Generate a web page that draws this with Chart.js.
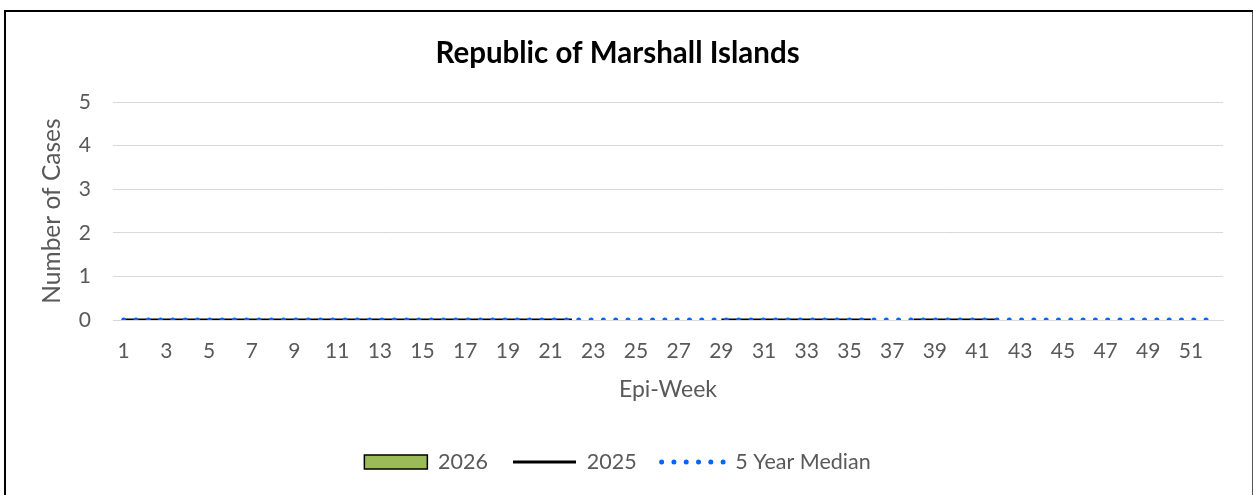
<!DOCTYPE html>
<html>
<head>
<meta charset="utf-8">
<script src="https://cdn.jsdelivr.net/npm/chart.js@4.4.1/dist/chart.umd.min.js"></script>
<style>
  html, body { margin: 0; padding: 0; background: #fff; }
  #wrap { position: relative; width: 1253px; height: 495px; }
  #frame {
    position: absolute; left: 4px; top: 10px; width: 1246px; height: 490px;
    border-left: 2px solid #000; border-top: 2px solid #000; border-right: 2px solid #555;
    pointer-events: none;
  }
</style>
</head>
<body>
<div id="wrap">
  <canvas id="chart" width="1253" height="495"></canvas>
  <div id="frame"></div>
</div>
<script>
const weeks = ["1","2","3","4","5","6","7","8","9","10","11","12","13","14","15","16","17","18","19","20",
  "21","22","23","24","25","26","27","28","29","30","31","32","33","34","35","36","37","38","39","40",
  "41","42","43","44","45","46","47","48","49","50","51","52"];

// no 2026 cases reported yet
const cases2026 = [];

const cases2025 = [0,0,0,0,0,0,0,0,0,0,0,0,0,0,0,0,0,0,0,0,
  0,0,null,null,null,null,null,null,0,0,0,0,0,0,0,0,null,0,0,0,
  0,0,null,null,null,null,null,null,null,null,null,null];

const median5yr = [0,0,0,0,0,0,0,0,0,0,0,0,0,0,0,0,0,0,0,0,
  0,0,0,0,0,0,0,0,0,0,0,0,0,0,0,0,0,0,0,0,
  0,0,0,0,0,0,0,0,0,0,0,0];

const yTicks = [0, 1, 2, 3, 4, 5];

const grey = "#595959";
const font = "Lato, 'Open Sans', sans-serif";

// legend symbols: lines use the dataset's line style, not the point style
function legendLabels(chart) {
  const items = Chart.defaults.plugins.legend.labels.generateLabels(chart);
  items.forEach(it => {
    const ds = chart.data.datasets[it.datasetIndex];
    it.lineWidth = ds.borderWidth;
    it.strokeStyle = ds.borderColor;
    if (ds.type === "line") {
      it.lineDash = ds.borderDash || [];
      it.lineCap = ds.borderCapStyle || "butt";
    } else {
      it.fillStyle = ds.backgroundColor;
    }
  });
  return items;
}

const ctx = document.getElementById("chart").getContext("2d");
new Chart(ctx, {
  data: {
    labels: weeks,
    datasets: [
      {
        type: "bar",
        label: "2026",
        data: cases2026,
        backgroundColor: "#9BBB59",
        borderColor: "#000",
        borderWidth: 1.5,
        pointStyle: "rect",
        order: 3
      },
      {
        type: "line",
        label: "2025",
        data: cases2025,
        borderColor: "#000",
        backgroundColor: "#000",
        borderWidth: 3,
        pointRadius: 0,
        pointStyle: "line",
        spanGaps: false,
        order: 2
      },
      {
        type: "line",
        label: "5 Year Median",
        data: median5yr,
        borderColor: "#0066FF",
        backgroundColor: "#0066FF",
        borderWidth: 5,
        borderDash: [0, 12.3],
        borderCapStyle: "round",
        pointRadius: 0,
        pointStyle: "line",
        order: 1
      }
    ]
  },
  options: {
    responsive: false,
    animation: false,
    layout: { padding: { left: 12, right: 30, top: 0, bottom: 12.25 } },
    plugins: {
      title: {
        display: true,
        text: "Republic of Marshall Islands",
        color: "#000",
        font: { family: font, size: 29.5, weight: "bold" },
        padding: { top: 35.3, bottom: 31.3 }
      },
      legend: {
        position: "bottom",
        labels: {
          color: grey,
          font: { family: font, size: 21.5 },
          usePointStyle: true,
          pointStyleWidth: 63,
          boxHeight: 14,
          padding: 25,
          generateLabels: legendLabels,
          sort: (a, b) => a.datasetIndex - b.datasetIndex
        }
      },
      tooltip: { enabled: false }
    },
    scales: {
      x: {
        type: "category",
        offset: true,
        afterFit: (scale) => { scale.height = 106.25; },
        grid: { display: false, drawTicks: false },
        border: { color: "#d9d9d9", width: 1 },
        ticks: {
          color: grey,
          font: { family: font, size: 21 },
          padding: 18.5,
          autoSkip: false,
          maxRotation: 0,
          callback: function (val, i) { return i % 2 === 0 ? this.getLabelForValue(val) : ""; }
        },
        title: {
          display: true,
          text: "Epi-Week",
          color: grey,
          font: { family: font, size: 23 },
          padding: { top: 0, bottom: 22.4 }
        }
      },
      y: {
        min: 0,
        max: 5,
        afterFit: (scale) => { scale.width = 101; },
        afterBuildTicks: (scale) => { scale.ticks = yTicks.map(v => ({ value: v })); },
        grid: { color: "#d9d9d9", lineWidth: 1, drawTicks: false },
        border: { display: false },
        ticks: {
          color: grey,
          font: { family: font, size: 21 },
          padding: 22
        },
        title: {
          display: true,
          text: "Number of Cases",
          color: grey,
          font: { family: font, size: 24.5 },
          padding: { top: 25, bottom: 0 }
        }
      }
    }
  }
});
</script>
</body>
</html>
